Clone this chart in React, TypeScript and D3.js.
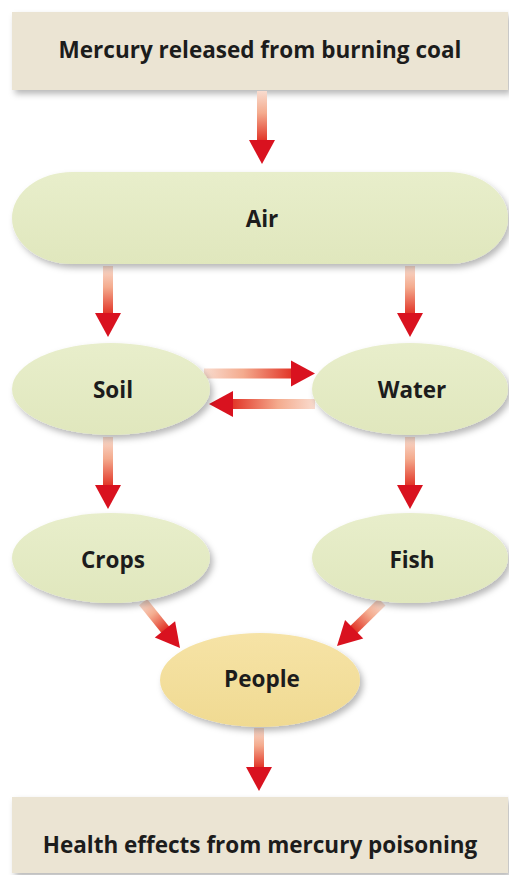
import React from "react";
import * as d3 from "d3";

const boxLabels = ["Mercury released from burning coal", "Health effects from mercury poisoning"];
const nodeLabels = ["Air", "Soil", "Water", "Crops", "Fish", "People"];
const links: [string, string][] = [
  ["Mercury released from burning coal", "Air"],
  ["Air", "Soil"],
  ["Air", "Water"],
  ["Soil", "Water"],
  ["Water", "Soil"],
  ["Soil", "Crops"],
  ["Water", "Fish"],
  ["Crops", "People"],
  ["Fish", "People"],
  ["People", "Health effects from mercury poisoning"],
];

const W = 509;
const H = 875;

// layout (pixel geometry)
const x = d3.scaleLinear().domain([0, 1]).range([12, 508]);
const boxGeom: Record<string, { y0: number; y1: number; base: number }> = {
  [boxLabels[0]]: { y0: 12, y1: 90, base: 58 },
  [boxLabels[1]]: { y0: 797, y1: 873, base: 853 },
};
const nodeGeom: Record<string, { cx: number; cy: number; rx: number; ry: number; pill?: boolean; base: number }> = {
  Air: { cx: 260, cy: 218, rx: 248, ry: 46, pill: true, base: 227 },
  Soil: { cx: 111, cy: 389, rx: 99, ry: 46, base: 398 },
  Water: { cx: 410, cy: 389, rx: 98, ry: 46, base: 398 },
  Crops: { cx: 111, cy: 558, rx: 99, ry: 45, base: 568 },
  Fish: { cx: 410, cy: 558, rx: 98, ry: 45, base: 568 },
  People: { cx: 260, cy: 680, rx: 100, ry: 47, base: 687 },
};
const arrowGeom: [number, number, number, number][] = [
  [262, 91, 262, 164],
  [108, 266, 108, 337],
  [410, 266, 410, 337],
  [204, 373.5, 315, 373.5],
  [315, 404, 209, 404],
  [108, 437, 108, 509],
  [410, 437, 410, 509],
  [143, 602, 180, 648],
  [382, 602, 337, 646],
  [259, 728, 259, 791],
];

const FONT = "'Open Sans', 'DejaVu Sans', sans-serif";

function Arrow({ g, i }: { g: [number, number, number, number]; i: number }) {
  const [x1, y1, x2, y2] = g;
  const L = Math.hypot(x2 - x1, y2 - y1);
  const ang = (Math.atan2(y2 - y1, x2 - x1) * 180) / Math.PI;
  const headLen = 24;
  const hw = 13;
  const sw = 10;
  const p = d3.path();
  p.moveTo(L - headLen, -hw);
  p.lineTo(L, 0);
  p.lineTo(L - headLen, hw);
  p.closePath();
  const id = `ag${i}`;
  return (
    <g transform={`translate(${x1},${y1}) rotate(${ang})`}>
      <defs>
        <linearGradient id={id} gradientUnits="userSpaceOnUse" x1={0} y1={0} x2={L - headLen} y2={0}>
          <stop offset="0" stopColor="#f9dccf" />
          <stop offset="0.45" stopColor="#f4ab8e" />
          <stop offset="1" stopColor="#e2382a" />
        </linearGradient>
      </defs>
      <rect x={0} y={-sw / 2} width={L - headLen + 1} height={sw} fill={`url(#${id})`} />
      <path d={p.toString()} fill="#d9121f" />
    </g>
  );
}

export default function App() {
  return (
    <svg
      width={W}
      height={H}
      style={{ position: "absolute", left: 0, top: 0, background: "#fff" }}
    >
      <defs>
        <filter id="sh" x="-10%" y="-20%" width="125%" height="150%">
          <feDropShadow dx="3" dy="4" stdDeviation="3" floodColor="#000" floodOpacity="0.28" />
        </filter>
        <linearGradient id="gGreen" x1="0" y1="0" x2="0" y2="1">
          <stop offset="0" stopColor="#e8eecb" />
          <stop offset="1" stopColor="#e0e7bd" />
        </linearGradient>
        <linearGradient id="gYellow" x1="0" y1="0" x2="0" y2="1">
          <stop offset="0" stopColor="#f6e3a6" />
          <stop offset="1" stopColor="#f0da92" />
        </linearGradient>
      </defs>

      {boxLabels.map((b) => {
        const gm = boxGeom[b];
        return (
          <g key={b}>
            <rect
              x={x(0)}
              y={gm.y0}
              width={x(1) - x(0)}
              height={gm.y1 - gm.y0}
              fill="#ebe4d3"
              filter="url(#sh)"
            />
            <text
              x={(x(0) + x(1)) / 2}
              y={gm.base}
              textAnchor="middle"
              fontFamily={FONT}
              fontWeight={700}
              fontSize={22.5}
              fill="#1c1c1c"
            >
              {b}
            </text>
          </g>
        );
      })}

      {links.map((l, i) => (
        <Arrow key={l.join("-") + i} g={arrowGeom[i]} i={i} />
      ))}

      {nodeLabels.map((n) => {
        const gm = nodeGeom[n];
        const fill = n === "People" ? "url(#gYellow)" : "url(#gGreen)";
        return (
          <g key={n}>
            {gm.pill ? (
              <rect
                x={gm.cx - gm.rx}
                y={gm.cy - gm.ry}
                width={gm.rx * 2}
                height={gm.ry * 2}
                rx={60}
                ry={gm.ry}
                fill={fill}
                filter="url(#sh)"
              />
            ) : (
              <ellipse cx={gm.cx} cy={gm.cy} rx={gm.rx} ry={gm.ry} fill={fill} filter="url(#sh)" />
            )}
            <text
              x={gm.cx + 2}
              y={gm.base}
              textAnchor="middle"
              fontFamily={FONT}
              fontWeight={700}
              fontSize={22.5}
              fill="#1c1c1c"
            >
              {n}
            </text>
          </g>
        );
      })}
    </svg>
  );
}
